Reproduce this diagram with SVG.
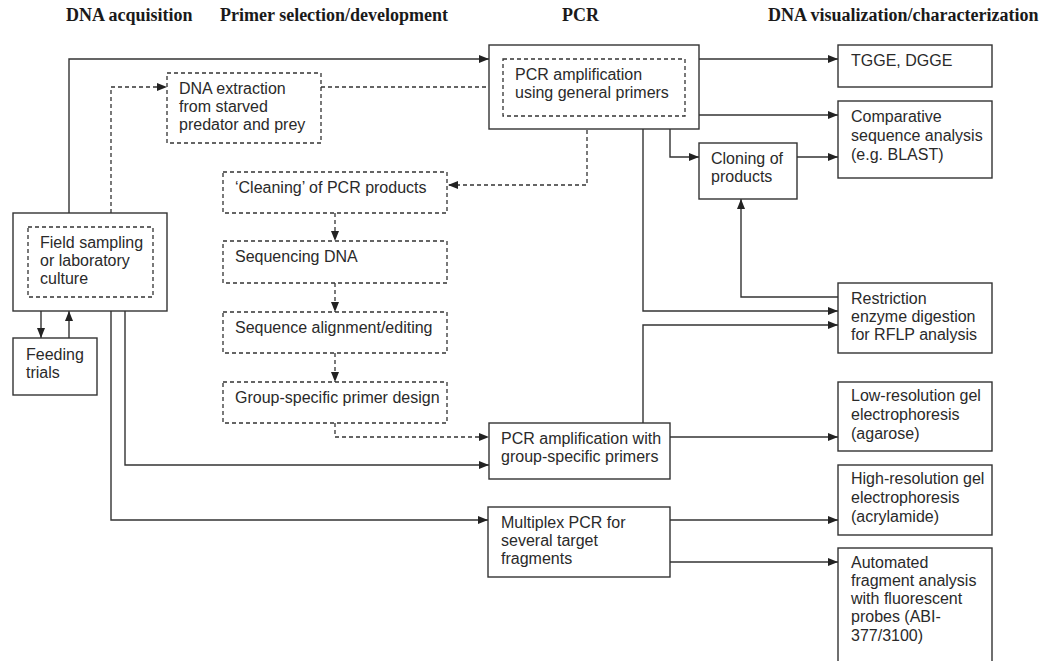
<svg xmlns="http://www.w3.org/2000/svg" width="1059" height="661" viewBox="0 0 1059 661">
<style>
.hdr{font-family:"Liberation Serif","Times New Roman",serif;font-weight:bold;font-size:18px;fill:#1a1a1a}
.t{font-family:"Liberation Sans",Arial,sans-serif;font-size:16px;fill:#2a2a2a}
.box{fill:#fff;stroke:#333;stroke-width:1.4}
.dbox{fill:none;stroke:#333;stroke-width:1.3;stroke-dasharray:4 3}
.c{fill:none;stroke:#333;stroke-width:1.4;marker-end:url(#ah)}
.cn{fill:none;stroke:#333;stroke-width:1.4}
.d{fill:none;stroke:#333;stroke-width:1.3;stroke-dasharray:4 3;marker-end:url(#ah)}
</style>
<defs>
<marker id="ah" markerUnits="userSpaceOnUse" markerWidth="10" markerHeight="8" refX="10" refY="4" orient="auto">
<path d="M0,0 L10,4 L0,8 z" fill="#222"/>
</marker>
</defs>
<rect width="1059" height="661" fill="#fff"/>
<g id="headers">
<text class="hdr" x="66" y="21">DNA acquisition</text>
<text class="hdr" x="220" y="21">Primer selection/development</text>
<text class="hdr" x="562" y="21">PCR</text>
<text class="hdr" x="768" y="21">DNA visualization/characterization</text>
</g>
<g id="connectors">
<path class="c" d="M69,213 V59 H489"/>
<path class="d" d="M111,227 V87 H167"/>
<path class="d" d="M321,87 H503"/>
<path class="d" d="M587,116 V185 H448"/>
<path class="d" d="M335,213 V241"/>
<path class="d" d="M335,283 V312"/>
<path class="d" d="M335,353 V382"/>
<path class="d" d="M335,423 V437 H489"/>
<path class="c" d="M125,311 V465 H489"/>
<path class="c" d="M111,311 V520 H488"/>
<path class="c" d="M41,311 V338"/>
<path class="c" d="M69,338 V311"/>
<path class="c" d="M699,59 H838"/>
<path class="c" d="M699,115 H838"/>
<path class="c" d="M670,129 V157 H699"/>
<path class="c" d="M797,157 H838"/>
<path class="c" d="M643,129 V311 H838"/>
<path class="c" d="M838,297 H741 V199"/>
<path class="c" d="M643,423 V325 H838"/>
<path class="c" d="M670,437 H838"/>
<path class="c" d="M670,520 H838"/>
<path class="c" d="M670,562 H838"/>
</g>
<g id="field">
<rect class="box" x="13" y="213" width="154" height="98"/>
<rect class="dbox" x="28" y="227" width="125" height="70"/>
<text class="t" x="40"><tspan x="40" y="248">Field sampling</tspan><tspan x="40" y="266">or laboratory</tspan><tspan x="40" y="284">culture</tspan></text>
</g>
<g id="feeding">
<rect class="box" x="13" y="338" width="84" height="57"/>
<text class="t"><tspan x="26" y="360">Feeding</tspan><tspan x="26" y="378">trials</tspan></text>
</g>
<g id="extraction">
<rect class="dbox" x="167" y="73" width="154" height="70"/>
<text class="t"><tspan x="179" y="94">DNA extraction</tspan><tspan x="179" y="112">from starved</tspan><tspan x="179" y="130">predator and prey</tspan></text>
</g>
<g id="cleaning">
<rect class="dbox" x="223" y="172" width="224" height="41"/>
<text class="t" x="235" y="193">‘Cleaning’ of PCR products</text>
</g>
<g id="sequencing">
<rect class="dbox" x="223" y="241" width="224" height="42"/>
<text class="t" x="235" y="262">Sequencing DNA</text>
</g>
<g id="alignment">
<rect class="dbox" x="223" y="312" width="224" height="41"/>
<text class="t" x="235" y="333">Sequence alignment/editing</text>
</g>
<g id="primerdesign">
<rect class="dbox" x="223" y="382" width="224" height="41"/>
<text class="t" x="235" y="403">Group-specific primer design</text>
</g>
<g id="pcrgeneral">
<rect class="box" x="489" y="45" width="210" height="84"/>
<rect class="dbox" x="503" y="59" width="182" height="57"/>
<text class="t"><tspan x="515" y="80">PCR amplification</tspan><tspan x="515" y="98">using general primers</tspan></text>
</g>
<g id="pcrgroup">
<rect class="box" x="489" y="423" width="181" height="56"/>
<text class="t"><tspan x="501" y="444">PCR amplification with</tspan><tspan x="501" y="462">group-specific primers</tspan></text>
</g>
<g id="multiplex">
<rect class="box" x="488" y="507" width="182" height="70"/>
<text class="t"><tspan x="501" y="528">Multiplex PCR for</tspan><tspan x="501" y="546">several target</tspan><tspan x="501" y="564">fragments</tspan></text>
</g>
<g id="tgge">
<rect class="box" x="838" y="45" width="154" height="42"/>
<text class="t" x="851" y="66">TGGE, DGGE</text>
</g>
<g id="comparative">
<rect class="box" x="838" y="101" width="154" height="77"/>
<text class="t"><tspan x="851" y="122">Comparative</tspan><tspan x="851" y="141">sequence analysis</tspan><tspan x="851" y="160">(e.g. BLAST)</tspan></text>
</g>
<g id="cloning">
<rect class="box" x="699" y="143" width="98" height="56"/>
<text class="t"><tspan x="711" y="164">Cloning of</tspan><tspan x="711" y="182">products</tspan></text>
</g>
<g id="restriction">
<rect class="box" x="838" y="283" width="154" height="70"/>
<text class="t"><tspan x="851" y="304">Restriction</tspan><tspan x="851" y="322">enzyme digestion</tspan><tspan x="851" y="340">for RFLP analysis</tspan></text>
</g>
<g id="lowres">
<rect class="box" x="838" y="382" width="154" height="69"/>
<text class="t"><tspan x="851" y="401">Low-resolution gel</tspan><tspan x="851" y="420">electrophoresis</tspan><tspan x="851" y="439">(agarose)</tspan></text>
</g>
<g id="highres">
<rect class="box" x="838" y="465" width="154" height="70"/>
<text class="t"><tspan x="851" y="484">High-resolution gel</tspan><tspan x="851" y="503">electrophoresis</tspan><tspan x="851" y="522">(acrylamide)</tspan></text>
</g>
<g id="automated">
<rect class="box" x="838" y="548" width="154" height="120"/>
<text class="t"><tspan x="851" y="568">Automated</tspan><tspan x="851" y="586">fragment analysis</tspan><tspan x="851" y="604">with fluorescent</tspan><tspan x="851" y="622">probes (ABI-</tspan><tspan x="851" y="641">377/3100)</tspan></text>
</g>
</svg>
